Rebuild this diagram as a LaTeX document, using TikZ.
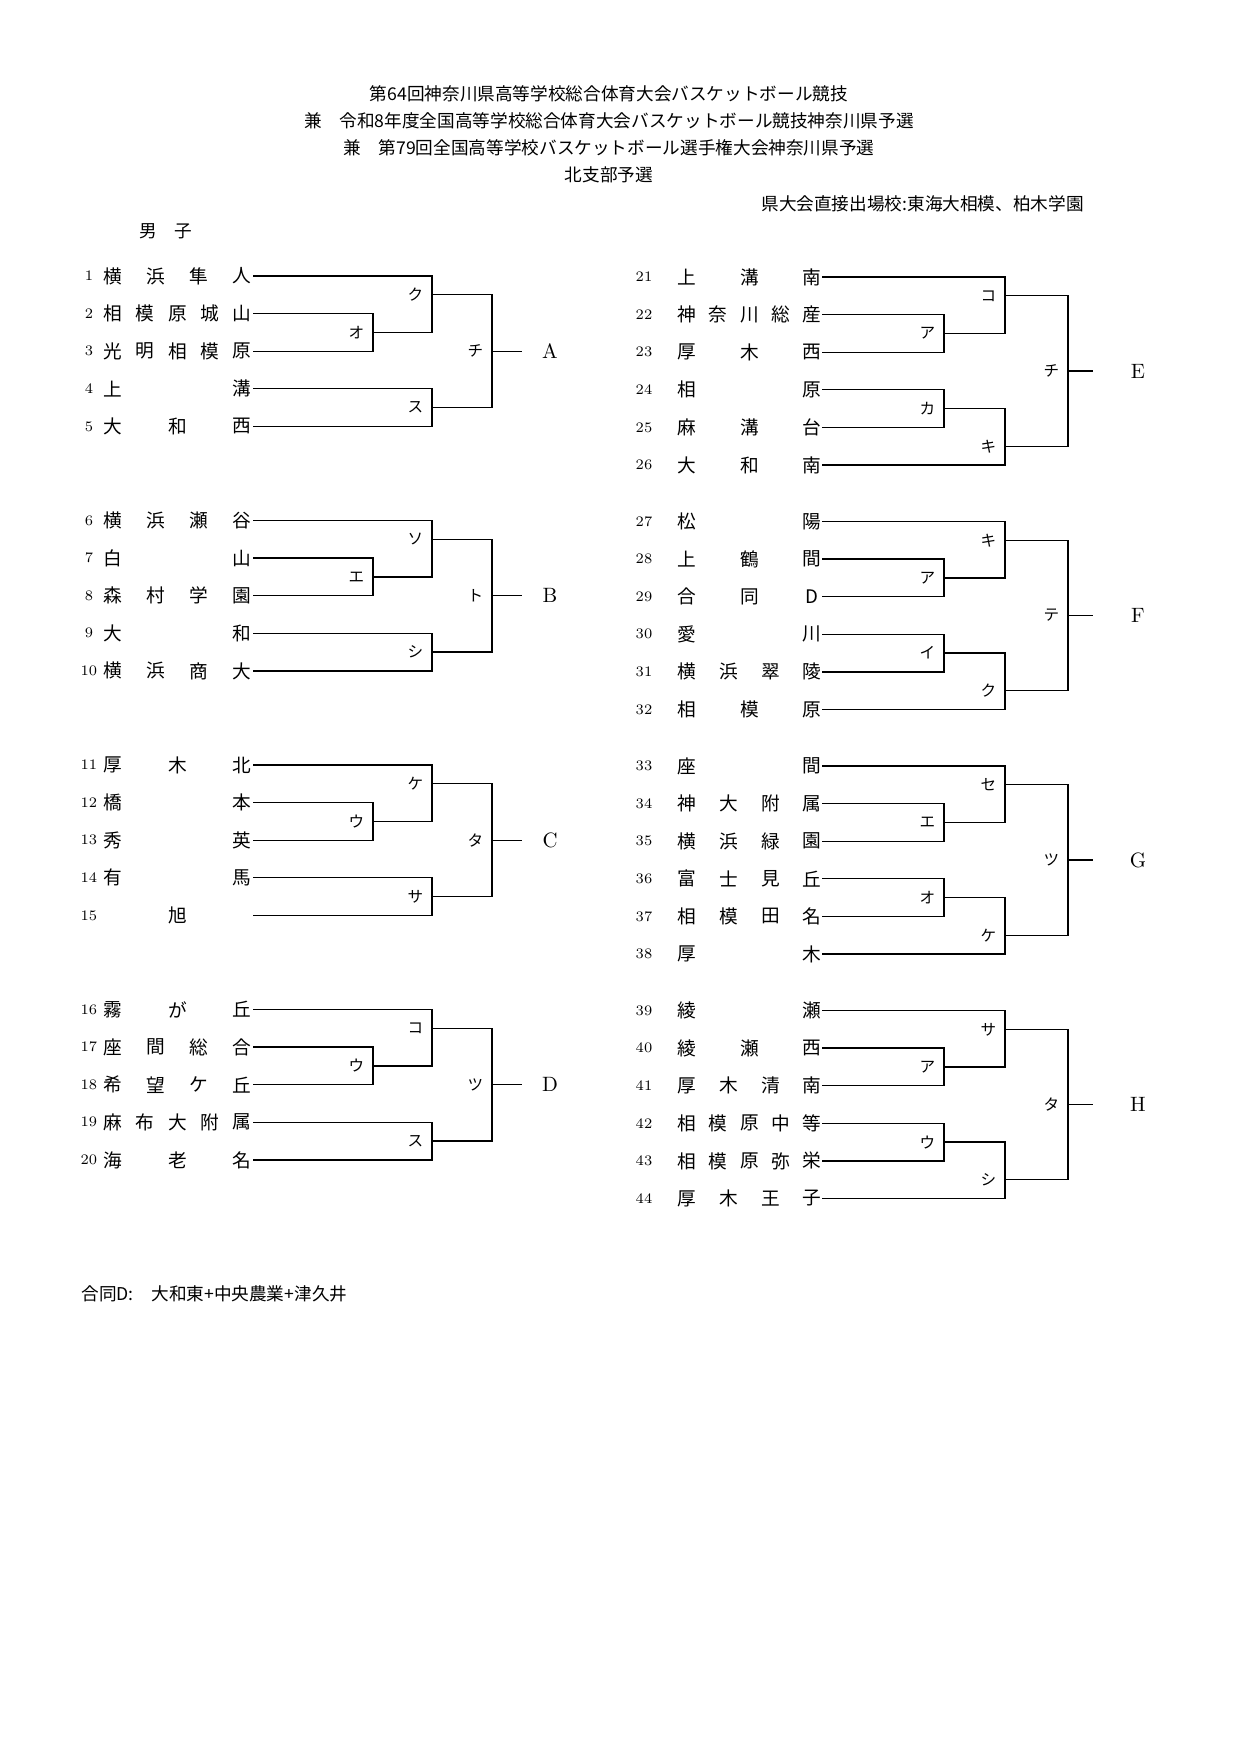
\documentclass[tikz,border=0pt]{standalone}
\usepackage{fontspec}
\newfontfamily\jp{Noto Sans CJK JP}
\newcount\tcnt
\tikzset{
  numtxt/.style={font=\fontsize{7}{8}\selectfont},
  nametxt/.style={font=\jp\fontsize{9}{10}\selectfont, inner sep=0pt},
  titletxt/.style={font=\jp\fontsize{8.5}{10}\selectfont, inner sep=0pt},
  mlabel/.style={font=\jp\fontsize{7.5}{8}\selectfont, anchor=east, inner sep=1pt, xshift=-3},
  winner/.style={font=\fontsize{10}{12}\selectfont},
  brline/.style={line width=0.6pt},
}
% team: number, y, first x, last x, number x, line x, characters
\newcommand\team[7]{%
  \global\tcnt=0 \foreach \c in {#7}{\global\advance\tcnt by 1}
  \node[numtxt] (n#1) at (#5,#2) {#1};
  \ifnum\tcnt=1 \node[nametxt] at ({(#3+#4)/2},#2) {#7};
  \else \foreach \c [count=\i from 0] in {#7}{\node[nametxt] at ({#3+(#4-#3)*\i/(\the\tcnt-1)},#2) {\c};}\fi
  \coordinate (t#1) at (#6,#2);}
\newcommand\lteam[3]{\team{#1}{#2}{113}{242}{89}{253}{#3}}
\newcommand\rteam[3]{\team{#1}{#2}{687}{812}{644}{822}{#3}}
% left block of five
\newcommand\leftbr[6]{%
  \path (253,#1) coordinate (r0) (253,#1+37.6) coordinate (r1) (253,#1+75.2) coordinate (r2)
        (253,#1+112.8) coordinate (r3) (253,#1+150.4) coordinate (r4);
  \coordinate (j1) at (373,#1+56.4);
  \coordinate (j2) at (432,#1+18.8);
  \coordinate (j3) at (432,#1+131.6);
  \coordinate (j4) at (492,#1+75.2);
  \coordinate (w) at (522,#1+75.2);
  \draw[brline] (r1) -| (j1) |- (r2);
  \draw[brline] (r0) -| (j2) |- (j1);
  \draw[brline] (r3) -| (j3) |- (r4);
  \draw[brline] (j2) -| (j4) |- (j3);
  \draw[brline] (j4) -- (w);
  \node[mlabel] at (j1) {#2};
  \node[mlabel] at (j2) {#3};
  \node[mlabel] at (j3) {#4};
  \node[mlabel] at (j4) {#5};
  \node[winner] at (550,#1+75.2) {#6};}
% right block of six
\newcommand\rightbr[7]{%
  \path (822,#1) coordinate (r0) (822,#1+37.6) coordinate (r1) (822,#1+75.2) coordinate (r2)
        (822,#1+112.8) coordinate (r3) (822,#1+150.4) coordinate (r4) (822,#1+188) coordinate (r5);
  \coordinate (j1) at (944,#1+56.4);
  \coordinate (j2) at (1005,#1+18.8);
  \coordinate (j3) at (944,#1+131.6);
  \coordinate (j4) at (1005,#1+169.2);
  \coordinate (j5) at (1068,#1+94);
  \coordinate (w) at (1093,#1+94);
  \draw[brline] (r1) -| (j1) |- (r2);
  \draw[brline] (r0) -| (j2) |- (j1);
  \draw[brline] (r3) -| (j3) |- (r4);
  \draw[brline] (j3) -| (j4) |- (r5);
  \draw[brline] (j2) -| (j5) |- (j4);
  \draw[brline] (j5) -- (w);
  \node[mlabel] at (j1) {#2};
  \node[mlabel] at (j2) {#3};
  \node[mlabel] at (j3) {#4};
  \node[mlabel] at (j4) {#5};
  \node[mlabel] at (j5) {#6};
  \node[winner] at (1138,#1+94) {#7};}
\begin{document}
\begin{tikzpicture}[x=0.01694cm, y=-0.01694cm]
\useasboundingbox[fill=white] (0,0) rectangle (1240,1754);

% heading
\node[titletxt] (title1) at (609,94) {第64回神奈川県高等学校総合体育大会バスケットボール競技};
\node[titletxt] (title2) at (609,121) {兼　令和8年度全国高等学校総合体育大会バスケットボール競技神奈川県予選};
\node[titletxt] (title3) at (609,148) {兼　第79回全国高等学校バスケットボール選手権大会神奈川県予選};
\node[titletxt] (title4) at (609,175) {北支部予選};
\node[titletxt, anchor=west] (direct) at (761,204) {県大会直接出場校:東海大相模、柏木学園};
\node[titletxt] (boys) at (166,231) {男　子};

% left side
\lteam{1}{276}{横,浜,隼,人}
\lteam{2}{313.6}{相,模,原,城,山}
\lteam{3}{351.2}{光,明,相,模,原}
\lteam{4}{388.8}{上,溝}
\lteam{5}{426.4}{大,和,西}
\lteam{6}{520.5}{横,浜,瀬,谷}
\lteam{7}{558.1}{白,山}
\lteam{8}{595.7}{森,村,学,園}
\lteam{9}{633.3}{大,和}
\lteam{10}{670.9}{横,浜,商,大}
\lteam{11}{765}{厚,木,北}
\lteam{12}{802.6}{橋,本}
\lteam{13}{840.2}{秀,英}
\lteam{14}{877.8}{有,馬}
\lteam{15}{915.4}{旭}
\lteam{16}{1009.5}{霧,が,丘}
\lteam{17}{1047.1}{座,間,総,合}
\lteam{18}{1084.7}{希,望,ケ,丘}
\lteam{19}{1122.3}{麻,布,大,附,属}
\lteam{20}{1159.9}{海,老,名}

\leftbr{276}{オ}{ク}{ス}{チ}{A}
\leftbr{520.5}{エ}{ソ}{シ}{ト}{B}
\leftbr{765}{ウ}{ケ}{サ}{タ}{C}
\leftbr{1009.5}{ウ}{コ}{ス}{ツ}{D}

% right side
\rteam{21}{277}{上,溝,南}
\rteam{22}{314.6}{神,奈,川,総,産}
\rteam{23}{352.2}{厚,木,西}
\rteam{24}{389.8}{相,原}
\rteam{25}{427.4}{麻,溝,台}
\rteam{26}{465}{大,和,南}
\rteam{27}{521.5}{松,陽}
\rteam{28}{559.1}{上,鶴,間}
\rteam{29}{596.7}{合,同,D}
\rteam{30}{634.3}{愛,川}
\rteam{31}{671.9}{横,浜,翠,陵}
\rteam{32}{709.5}{相,模,原}
\rteam{33}{766}{座,間}
\rteam{34}{803.6}{神,大,附,属}
\rteam{35}{841.2}{横,浜,緑,園}
\rteam{36}{878.8}{富,士,見,丘}
\rteam{37}{916.4}{相,模,田,名}
\rteam{38}{954}{厚,木}
\rteam{39}{1010.5}{綾,瀬}
\rteam{40}{1048.1}{綾,瀬,西}
\rteam{41}{1085.7}{厚,木,清,南}
\rteam{42}{1123.3}{相,模,原,中,等}
\rteam{43}{1160.9}{相,模,原,弥,栄}
\rteam{44}{1198.5}{厚,木,王,子}

\rightbr{277}{ア}{コ}{カ}{キ}{チ}{E}
\rightbr{521.5}{ア}{キ}{イ}{ク}{テ}{F}
\rightbr{766}{エ}{セ}{オ}{ケ}{ツ}{G}
\rightbr{1010.5}{ア}{サ}{ウ}{シ}{タ}{H}

% note
\node[titletxt, anchor=west] (note) at (81,1294) {合同D:　大和東+中央農業+津久井};
\end{tikzpicture}
\end{document}
